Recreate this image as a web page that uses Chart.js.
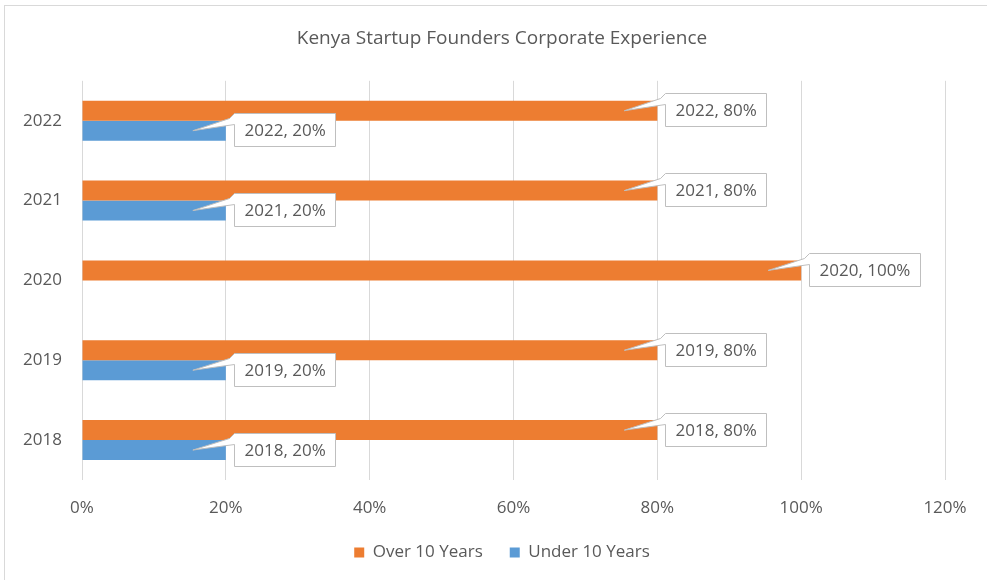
<!DOCTYPE html>
<html>
<head>
<meta charset="utf-8">
<script src="https://cdn.jsdelivr.net/npm/chart.js@4.4.0/dist/chart.umd.min.js"></script>
<style>
  html, body { margin: 0; padding: 0; background: #ffffff; }
  #wrap { position: absolute; left: 0; top: 0; width: 987px; height: 580px; }
</style>
</head>
<body>
<div id="wrap"><canvas id="chart" width="987" height="580"></canvas></div>
<script>
// Chart data
const years = ['2022', '2021', '2020', '2019', '2018'];
const over10Years = [0.8, 0.8, 1.0, 0.8, 0.8];
const under10Years = [0.2, 0.2, null, 0.2, 0.2];
const xTicks = [0, 0.2, 0.4, 0.6, 0.8, 1.0, 1.2];

const TEXT_COLOR = '#595959';
const FONT = "'Open Sans', 'Noto Sans', sans-serif";

function pct(v) {
    return Math.round(v * 100) + '%';
}

// chart frame (light border like the original)
const framePlugin = {
    id: 'frame',
    beforeDraw(chart) {
        const ctx = chart.ctx;
        ctx.save();
        ctx.fillStyle = '#ffffff';
        ctx.fillRect(0, 0, chart.width, chart.height);
        ctx.strokeStyle = '#d9d9d9';
        ctx.lineWidth = 1;
        ctx.strokeRect(4.5, 5.5, chart.width + 20, chart.height + 20);
        ctx.restore();
    }
};

// callout style data labels: "year, value"
const calloutPlugin = {
    id: 'callouts',
    afterDatasetsDraw(chart) {
        const ctx = chart.ctx;
        ctx.save();
        ctx.font = '17px ' + FONT;
        ctx.textBaseline = 'middle';
        ctx.textAlign = 'left';
        chart.data.datasets.forEach((ds, di) => {
            const meta = chart.getDatasetMeta(di);
            meta.data.forEach((bar, i) => {
                const v = ds.data[i];
                if (v === null || v === undefined) return;
                const text = chart.data.labels[i] + ', ' + pct(v);
                const w = ctx.measureText(text).width + 20;
                const h = 33;
                const L = Math.round(bar.x + 8) + 0.5;
                const T = Math.round(bar.y - h / 2) - 0.5;
                const R = L + Math.round(w);
                const B = T + h;
                const tipX = bar.x - 33;
                const tipY = bar.y;
                ctx.beginPath();
                ctx.moveTo(L, T);
                ctx.lineTo(R, T);
                ctx.lineTo(R, B);
                ctx.lineTo(L, B);
                ctx.lineTo(L, T + 11);
                ctx.lineTo(tipX, tipY);
                ctx.lineTo(L - 5, T + 5);
                ctx.closePath();
                ctx.fillStyle = '#ffffff';
                ctx.fill();
                ctx.strokeStyle = '#bfbfbf';
                ctx.lineWidth = 1;
                ctx.stroke();
                ctx.fillStyle = TEXT_COLOR;
                ctx.fillText(text, L + 10, T + h / 2 + 1);
            });
        });
        ctx.restore();
    }
};

const ctx = document.getElementById('chart').getContext('2d');
new Chart(ctx, {
    type: 'bar',
    data: {
        labels: years,
        datasets: [{
            label: 'Over 10 Years',
            data: over10Years,
            backgroundColor: '#ED7D31',
            borderWidth: 0,
            categoryPercentage: 0.5,
            barPercentage: 1.0
        }, {
            label: 'Under 10 Years',
            data: under10Years,
            backgroundColor: '#5B9BD5',
            borderWidth: 0,
            categoryPercentage: 0.5,
            barPercentage: 1.0
        }]
    },
    options: {
        indexAxis: 'y',
        responsive: false,
        animation: false,
        layout: {
            padding: { left: 59, right: 42, top: 0, bottom: 9 }
        },
        scales: {
            x: {
                min: 0,
                max: 1.2,
                afterBuildTicks(scale) {
                    scale.ticks = xTicks.map(v => ({ value: v }));
                },
                afterFit(scale) {
                    scale.height = 37;
                },
                grid: {
                    color: '#d9d9d9',
                    drawTicks: false
                },
                border: { display: false },
                ticks: {
                    padding: 18,
                    color: TEXT_COLOR,
                    font: { family: FONT, size: 17 },
                    callback: v => pct(v)
                }
            },
            y: {
                afterFit(scale) {
                    scale.width = 23;
                    // labels sit in the left padding, don't clip them to the narrow axis box
                    scale._computeLabelArea = () => undefined;
                },
                grid: { display: false, drawTicks: false },
                border: { display: false },
                ticks: {
                    padding: 20,
                    color: TEXT_COLOR,
                    font: { family: FONT, size: 17 }
                }
            }
        },
        plugins: {
            title: {
                display: true,
                text: 'Kenya Startup Founders Corporate Experience',
                color: TEXT_COLOR,
                font: { family: FONT, size: 19, weight: 'normal' },
                padding: { top: 27, bottom: 31 }
            },
            legend: {
                position: 'bottom',
                labels: {
                    boxWidth: 10,
                    boxHeight: 10,
                    padding: 27,
                    color: TEXT_COLOR,
                    font: { family: FONT, size: 17 }
                }
            },
            tooltip: { enabled: false }
        }
    },
    plugins: [framePlugin, calloutPlugin]
});
</script>
</body>
</html>
